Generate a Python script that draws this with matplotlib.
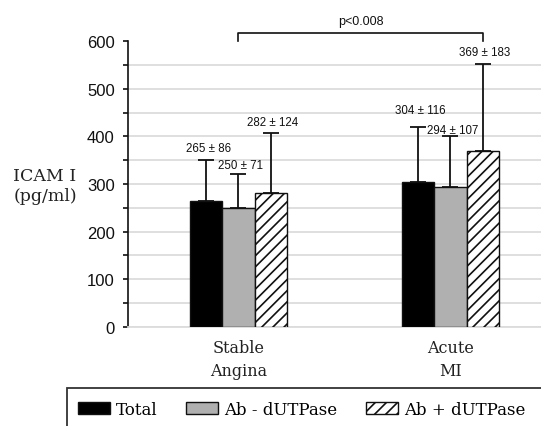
import numpy as np
import matplotlib.pyplot as plt
from matplotlib.patches import Rectangle, Patch

# data
groups = ["Stable\nAngina", "Acute\nMI"]
series = ["Total", "Ab - dUTPase", "Ab + dUTPase"]
means = [[265, 304], [250, 294], [282, 369]]
sds = [[86, 116], [71, 107], [124, 183]]
p_text = "p<0.008"

# look
colors = ["#000000", "#b0b0b0", "white"]
hatches = [None, None, "///"]
# small per-label vertical nudge (points) as in the original
label_dy = [[4, 8], [2, 0], [4, 4]]

plt.rcParams["hatch.linewidth"] = 1.2
sans = "Liberation Sans"
serif = "DejaVu Serif"

fig = plt.figure(figsize=(5.41, 4.27), dpi=100)
ax = fig.add_axes([0.2366, 0.2319, 0.7634, 0.6697])

x = np.arange(len(groups))
w = 0.152
for i, name in enumerate(series):
    xs = x + (i - 1) * w
    ax.bar(xs, means[i], w, color=colors[i], edgecolor="#111111",
           linewidth=1.0, hatch=hatches[i], zorder=3, label=name)
    ax.errorbar(xs, means[i], yerr=[np.zeros(len(xs)), sds[i]], fmt="none",
                ecolor="#111111", elinewidth=1.3, capsize=5.6, capthick=1.3,
                zorder=2)
    for j in range(len(xs)):
        top = means[i][j] + sds[i][j]
        ax.annotate(f"{means[i][j]} \u00b1 {sds[i][j]}", (xs[j], top),
                    xytext=(1.5, label_dy[i][j]), textcoords="offset points",
                    ha="center", va="bottom", fontsize=8.3, family=sans,
                    color="#111111", zorder=5)

# significance bracket
bx0 = x[0]
bx1 = x[1] + w
ax.plot([bx0, bx0, bx1, bx1], [599, 616, 616, 599], color="#111111",
        lw=1.2, clip_on=False)
ax.text((bx0 + bx1) / 2, 642, p_text, ha="center", va="center",
        fontsize=9, family=sans, color="#111111")

ax.set_xlim(-0.521, 1.427)
ax.set_ylim(0, 600)
ax.set_yticks(np.arange(0, 601, 100))
ax.set_yticks(np.arange(50, 600, 100), minor=True)
ax.tick_params(axis="y", which="both", direction="out", length=3.5,
               width=1.2, color="#111111", labelsize=12, pad=6,
               labelcolor="#111111")
for lab in ax.get_yticklabels():
    lab.set_family(sans)
ax.grid(axis="y", which="both", color="#dcdcdc", lw=1.3, zorder=0)
ax.get_ygridlines()[-1].set_visible(False)
ax.set_axisbelow(True)

ax.set_xticks(x)
ax.set_xticklabels(groups, family=serif, fontsize=11.5, linespacing=1.45,
                   color="#222222")
ax.tick_params(axis="x", length=0, pad=9)

for s in ["top", "right"]:
    ax.spines[s].set_visible(False)
ax.spines["bottom"].set_color("#dcdcdc")
ax.spines["bottom"].set_linewidth(1.3)
ax.spines["left"].set_color("#111111")
ax.spines["left"].set_linewidth(1.2)

fig.text(45 / 541, 1 - 186.5 / 427, "ICAM I\n(pg/ml)", ha="center",
         va="center", family=serif, fontsize=12.5, linespacing=1.3,
         color="#222222")

# legend box running off the figure edge
fig.patches.append(Rectangle((66.7 / 541, -0.2), 1.0, 0.2 + 1 - 389.3 / 427,
                             transform=fig.transFigure, fill=False,
                             edgecolor="#333333", lw=1.3))
handles = [Patch(facecolor=colors[i], edgecolor="#111111", hatch=hatches[i],
                 label=series[i]) for i in range(len(series))]
fig.legend(handles=handles, loc="center left",
           bbox_to_anchor=(78 / 541, 1 - 410.5 / 427), ncol=3,
           frameon=False, borderpad=0, borderaxespad=0,
           handlelength=1.92, handleheight=0.76, handletextpad=0.34,
           columnspacing=1.75, prop={"family": serif, "size": 12})

fig.savefig("out.png", dpi=100)
